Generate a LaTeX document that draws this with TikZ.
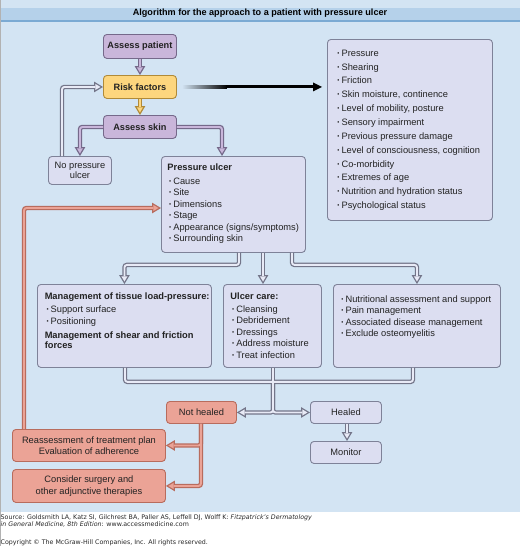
\documentclass[tikz,border=0pt]{standalone}
\usepackage{fontspec}
\setmainfont{Liberation Sans}
\newfontfamily\footfont{DejaVu Sans}
\usetikzlibrary{arrows.meta,calc}
\definecolor{bgblue}{HTML}{D3E4F3}
\definecolor{bandblue}{HTML}{B5D1EA}
\definecolor{bandline}{HTML}{7BAAD3}
\definecolor{purp}{HTML}{C9B6DA}
\definecolor{purpd}{HTML}{75698A}
\definecolor{yel}{HTML}{FDD67E}
\definecolor{yeld}{HTML}{B08A38}
\definecolor{lav}{HTML}{DCDEF1}
\definecolor{lavd}{HTML}{7E8298}
\definecolor{sal}{HTML}{EBA396}
\definecolor{sald}{HTML}{B86C5D}
\definecolor{cgray}{HTML}{737589}
\definecolor{clight}{HTML}{E8EAF6}
\definecolor{txt}{HTML}{222222}
\newcommand\bx[5]{\begin{minipage}[c][#2pt][t]{#1pt}\leftskip=#3pt\relax\rule{0pt}{#4pt}#5\end{minipage}}
\newcommand\bul{\hspace*{1.5pt}\makebox[4.4pt][l]{\textbf{·}}}
\tikzset{
  box/.style={rounded corners=3.5pt, line width=0.9pt, inner sep=0pt, anchor=north west, text=txt},
  pbox/.style={box, fill=purp, draw=purpd},
  ybox/.style={box, fill=yel, draw=yeld},
  lbox/.style={box, fill=lav, draw=lavd},
  sbox/.style={box, fill=sal, draw=sald},
  rg/.style={font=\fontsize{9.3}{11.4}\selectfont},
  hd/.style={font=\bfseries\fontsize{9.2}{11}\selectfont},
  ohw/.style={draw=#1, line width=4.4pt, rounded corners=2.5pt, -{Triangle[length=9pt,width=10.8pt,line width=0pt]}},
  ihw/.style={draw=#1, line width=1.9pt, rounded corners=2.5pt, shorten >=2.5pt, -{Triangle[length=5.2pt,width=6.2pt,line width=0pt]}},
  oln/.style={draw=#1, line width=4.4pt, rounded corners=2.5pt},
  iln/.style={draw=#1, line width=1.9pt, rounded corners=2.5pt},
  foot/.style={anchor=base west, inner sep=0pt, text=black!85, font=\footfont\fontsize{6.3}{7.6}\selectfont},
}
\begin{document}
\begin{tikzpicture}[x=1pt,y=-1pt]
\useasboundingbox (0,0) rectangle (520,546);
% background
\fill[bgblue] (0,0) rectangle (520,512);
\fill[bandblue] (0,8) rectangle (520,20.5);
\draw[bandline, line width=1.5pt] (0,21) -- (520,21);
\draw[black!30, line width=0.8pt] (0.4,0) -- (0.4,546);
\node[anchor=base, inner sep=0pt, font=\bfseries\fontsize{9.1}{11}\selectfont] (title) at (260,15.3) {Algorithm for the approach to a patient with pressure ulcer};

% nodes
\node[pbox, hd, minimum width=73, minimum height=24] (ap) at (103,34) {Assess patient};
\node[ybox, hd, minimum width=73, minimum height=23] (rf) at (103,75) {Risk factors};
\node[pbox, hd, minimum width=73, minimum height=23] (as) at (103,115) {Assess skin};
\node[lbox, minimum width=63, minimum height=28, align=center, font=\fontsize{9.3}{10}\selectfont] (np) at (48,156) {No pressure\\ulcer};

\node[lbox, font=\fontsize{9.3}{13.87}\selectfont] (rl) at (327,39) {\bx{165}{181}{8.2}{16.7}{\bul Pressure\\ \bul Shearing\\ \bul Friction\\ \bul Skin moisture, continence\\ \bul Level of mobility, posture\\ \bul Sensory impairment\\ \bul Previous pressure damage\\ \bul Level of consciousness, cognition\\ \bul Co-morbidity\\ \bul Extremes of age\\ \bul Nutrition and hydration status\\ \bul Psychological status}};

\node[lbox, rg] (pu) at (161,156) {\bx{144}{96}{6}{14.3}{{\bfseries Pressure ulcer}\\[2.3pt] \bul Cause\\ \bul Site\\ \bul Dimensions\\ \bul Stage\\ \bul Appearance (signs/symptoms)\\ \bul Surrounding skin}};

\node[lbox, rg] (mg) at (37,284) {\bx{174}{83}{7.3}{14.7}{{\bfseries Management of tissue load-pressure:}\\[1.9pt] \bul Support surface\\[0.3pt] \bul Positioning\\[2.9pt] {\bfseries Management of shear and friction}\\[-1.1pt] {\bfseries forces}}};

\node[lbox, rg] (uc) at (223,284) {\bx{98}{83}{7}{14.7}{{\bfseries Ulcer care:}\\[1.9pt] \bul Cleansing\\ \bul Debridement\\ \bul Dressings\\ \bul Address moisture\\ \bul Treat infection}};

\node[lbox, rg] (nu) at (333,284) {\bx{167}{83}{6.2}{18}{\bul Nutritional assessment and support\\ \bul Pain management\\ \bul Associated disease management\\ \bul Exclude osteomyelitis}};

\node[sbox, rg, minimum width=70, minimum height=22] (nh) at (166,401) {Not healed};
\node[lbox, rg, minimum width=71, minimum height=22] (he) at (310,401) {Healed};
\node[lbox, rg, minimum width=71, minimum height=22] (mo) at (310,441) {Monitor};
\node[sbox, minimum width=153, minimum height=32, align=center, font=\fontsize{9.3}{11}\selectfont] (ra) at (12,429) {Reassessment of treatment plan\\Evaluation of adherence};
\node[sbox, minimum width=153, minimum height=33, align=center, font=\fontsize{9.3}{11.3}\selectfont] (cs) at (12,469) {Consider surgery and\\other adjunctive therapies};

% connectors top
\draw[ohw=purpd] (ap.south) -- (rf.north);
\draw[ihw=purp] (ap.south) -- (rf.north);
\draw[ohw=yeld] (rf.south) -- (as.north);
\draw[ihw=yel] (rf.south) -- (as.north);

\coordinate (pun) at ($(pu.north west)+(61,0)$);
\draw[ohw=purpd] (as.west) -| (np.north);
\draw[ohw=purpd] (as.east) -| (pun);
\draw[ihw=purp] (as.west) -| (np.north);
\draw[ihw=purp] (as.east) -| (pun);

\coordinate (npt) at ($(np.north west)+(14,0)$);
\draw[ohw=cgray] (npt) |- (rf.west);
\draw[ihw=clight] (npt) |- (rf.west);

% risk factor arrow with fading start
\coordinate (g0) at ($(rf.east)+(5,0)$);
\coordinate (g1) at ($(rl.west |- rf.east)+(-5,0)$);
\shade[left color=bgblue, right color=black] ($(g0)+(0,-1.5)$) rectangle ($(g0)+(45,1.5)$);
\draw[black, line width=3pt, -{Triangle[length=9pt,width=9pt,line width=0pt]}] ($(g0)+(44,0)$) -- (g1);

% pressure ulcer branches
\coordinate (b1) at ($(pu.south west)+(78,0)$);
\coordinate (b2) at ($(pu.south west)+(102,0)$);
\coordinate (b3) at ($(pu.south west)+(131,0)$);
\draw[ohw=cgray] (b1) -- ++(0,12) -| (mg.north);
\draw[ohw=cgray] (b2) -- (b2 |- uc.north);
\draw[ohw=cgray] (b3) -- ++(0,12) -| (nu.north);
\draw[ihw=clight] (b1) -- ++(0,12) -| (mg.north);
\draw[ihw=clight] (b2) -- (b2 |- uc.north);
\draw[ihw=clight] (b3) -- ++(0,12) -| (nu.north);

% bottom network
\coordinate (J) at ($(uc.south west)+(50,14)$);
\coordinate (m1) at ($(mg.south west)+(88,0)$);
\coordinate (m3) at ($(nu.south west)+(80,0)$);
\draw[oln=cgray] (m1) |- (J);
\draw[oln=cgray] (m3) |- (J);
\draw[oln=cgray] (uc.south -| J) -- (J);
\draw[ohw=cgray] (J) |- (nh.east);
\draw[ohw=cgray] (J) |- (he.west);
\draw[iln=clight] (m1) |- (J);
\draw[iln=clight] (m3) |- (J);
\draw[iln=clight] (uc.south -| J) -- (J);
\draw[ihw=clight] (J) |- (nh.east);
\draw[ihw=clight] (J) |- (he.west);

\coordinate (hs) at ($(he.south west)+(37,0)$);
\draw[ohw=cgray] (hs) -- (hs |- mo.north);
\draw[ihw=clight] (hs) -- (hs |- mo.north);

% not healed branches
\coordinate (S) at ($(nh.south west)+(35,0)$);
\draw[ohw=sald] (S) |- (cs.east);
\draw[ohw=sald] (S) |- (ra.east);
\draw[ihw=sal] (S) |- (cs.east);
\draw[ihw=sal] (S) |- (ra.east);

% reassessment back to pressure ulcer
\coordinate (rt) at ($(ra.north west)+(12,0)$);
\coordinate (pw) at ($(pu.north west)+(0,52)$);
\draw[ohw=sald] (rt) |- (pw);
\draw[ihw=sal] (rt) |- (pw);

% footer
\node[foot] (src1) at (0.5,519) {Source: Goldsmith LA, Katz SI, Gilchrest BA, Paller AS, Leffell DJ, Wolff K: \textit{Fitzpatrick’s Dermatology}};
\node[foot] (src2) at (0.5,526.6) {\textit{in General Medicine, 8th Edition}: www.accessmedicine.com};
\node[foot] (copy) at (0.5,544) {Copyright © The McGraw-Hill Companies, Inc. All rights reserved.};
\end{tikzpicture}
\end{document}
